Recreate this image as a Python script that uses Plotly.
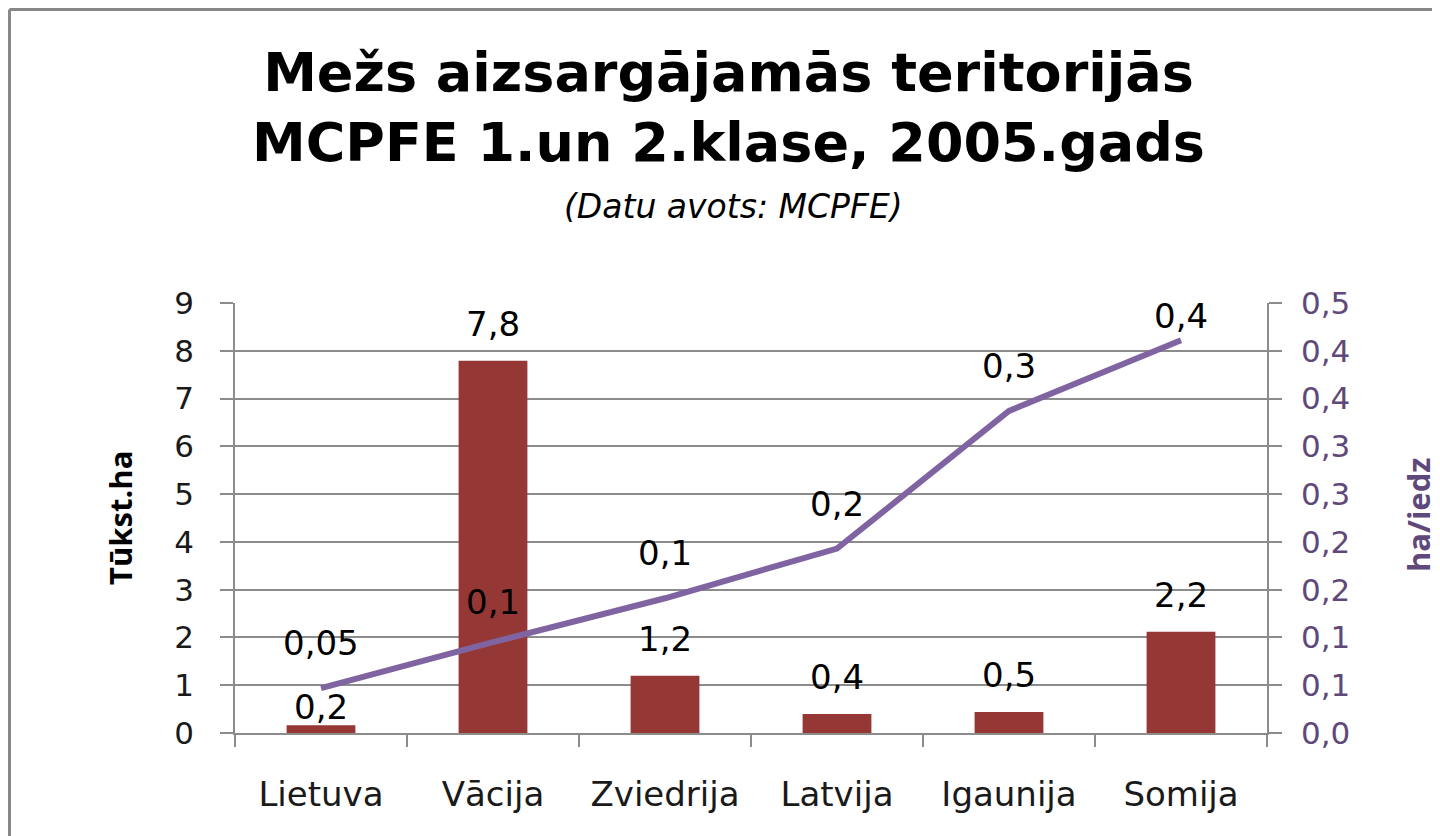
import plotly.graph_objects as go

# ---- data ----
categories = ["Lietuva", "Vācija", "Zviedrija", "Latvija", "Igaunija", "Somija"]
area_thousand_ha = [0.16, 7.79, 1.2, 0.4, 0.44, 2.12]
area_labels = ["0,2", "7,8", "1,2", "0,4", "0,5", "2,2"]
ha_per_capita = [0.047, 0.095, 0.141, 0.193, 0.337, 0.411]
per_capita_labels = ["0,05", "0,1", "0,1", "0,2", "0,3", "0,4"]

left_tickvals = [0, 1, 2, 3, 4, 5, 6, 7, 8, 9]
right_tickvals = [0, 0.05, 0.1, 0.15, 0.2, 0.25, 0.3, 0.35, 0.4, 0.45]
right_ticktext = ["0,0", "0,1", "0,1", "0,2", "0,2", "0,3", "0,3", "0,4", "0,4", "0,5"]

title_line1 = "Mežs aizsargājamās teritorijās"
title_line2 = "MCPFE 1.un 2.klase, 2005.gads"
subtitle = "(Datu avots: MCPFE)"

# ---- style / layout constants ----
OFF = 8  # page body margin
W, H = 1440 - OFF, 836 - OFF
L, R, T, B = 235 - OFF, 1267 - OFF, 303 - OFF, 733 - OFF
BAR_COLOR = "#953735"
LINE_COLOR = "#8064A2"
RIGHT_TXT = "#5F497A"
GRID = "#8C8C8C"
NUM_FONT = "DejaVu Sans"
TITLE_FONT = "DejaVu Sans"
AX_TITLE_FONT = "Open Sans"
bar_label_shift = [18, 37, 37, 37, 37, 37]
line_label_shift = [45, 40, 45, 45, 45, 24]


def px_x(px):
    return (px - OFF - L) / (R - L)


def px_y(py):
    return (B - (py - OFF)) / (B - T)


fig = go.Figure()
fig.add_trace(go.Bar(
    x=categories, y=area_thousand_ha, marker_color=BAR_COLOR,
    marker_line_width=0, yaxis="y", name="Tūkst.ha", showlegend=False,
))
fig.add_trace(go.Scatter(
    x=categories, y=ha_per_capita, mode="lines", yaxis="y2",
    line=dict(color=LINE_COLOR, width=6), name="ha/iedz", showlegend=False,
))

annotations = []
for c, v, t, s in zip(categories, area_thousand_ha, area_labels, bar_label_shift):
    annotations.append(dict(x=c, y=v, xref="x", yref="y", text=t, showarrow=False,
                            yanchor="middle", yshift=s,
                            font=dict(family=NUM_FONT, size=34, color="#000000")))
for c, v, t, s in zip(categories, ha_per_capita, per_capita_labels, line_label_shift):
    annotations.append(dict(x=c, y=v, xref="x", yref="y2", text=t, showarrow=False,
                            yanchor="middle", yshift=s,
                            font=dict(family=NUM_FONT, size=34, color="#000000")))

# titles
annotations += [
    dict(x=px_x(728), y=px_y(107), xref="paper", yref="paper",
         text="<b>%s</b><br><b>%s</b>" % (title_line1, title_line2),
         showarrow=False, xanchor="center", yanchor="middle", align="center",
         font=dict(family=TITLE_FONT, size=54, color="#000000")),
    dict(x=px_x(733), y=px_y(206), xref="paper", yref="paper", text="<i>%s</i>" % subtitle,
         showarrow=False, xanchor="center", yanchor="middle",
         font=dict(family=NUM_FONT, size=33, color="#000000")),
    dict(x=px_x(120), y=px_y(518), xref="paper", yref="paper", text="<b>Tūkst.ha</b>",
         showarrow=False, textangle=-90, xanchor="center", yanchor="middle",
         font=dict(family=AX_TITLE_FONT, size=31, color="#000000")),
    dict(x=px_x(1418), y=px_y(515), xref="paper", yref="paper", text="<b>ha/iedz</b>",
         showarrow=False, textangle=-90, xanchor="center", yanchor="middle",
         font=dict(family=AX_TITLE_FONT, size=31, color=RIGHT_TXT)),
]

shapes = [
    dict(type="line", xref="paper", yref="paper", x0=px_x(9.5), x1=px_x(1440), y0=px_y(9.5), y1=px_y(9.5),
         line=dict(color="#878787", width=3)),
    dict(type="line", xref="paper", yref="paper", x0=px_x(9.5), x1=px_x(9.5), y0=px_y(9.5), y1=px_y(836),
         line=dict(color="#878787", width=3)),
]

fig.update_layout(
    width=W, height=H, autosize=False,
    margin=dict(l=L, r=W - R, t=T, b=H - B, pad=0),
    paper_bgcolor="white", plot_bgcolor="white",
    bargap=0.6,
    annotations=annotations, shapes=shapes,
    xaxis=dict(
        type="category", showgrid=False, showline=True, linecolor=GRID, linewidth=1.5,
        ticks="outside", tickson="boundaries", ticklen=12, tickcolor=GRID, tickwidth=1.5,
        tickfont=dict(family=NUM_FONT, size=34, color="#1a1a1a"), ticklabelstandoff=30,
        zeroline=False,
    ),
    yaxis=dict(
        range=[0, 9], tickvals=left_tickvals, showgrid=True, gridcolor=GRID, gridwidth=1.5,
        showline=True, linecolor=GRID, linewidth=1.5, ticks="outside", ticklen=13,
        tickcolor=GRID, tickwidth=1.5, zeroline=False,
        tickfont=dict(family=NUM_FONT, size=31, color="#1a1a1a"), ticklabelstandoff=20,
    ),
    yaxis2=dict(
        range=[0, 0.45], overlaying="y", side="right", tickvals=right_tickvals,
        ticktext=right_ticktext, showgrid=False, showline=True, linecolor=GRID, linewidth=1.5,
        ticks="outside", ticklen=13, tickcolor=GRID, tickwidth=1.5, zeroline=False,
        tickfont=dict(family=NUM_FONT, size=31, color=RIGHT_TXT), ticklabelstandoff=13,
    ),
)

fig.write_html("out.html")
